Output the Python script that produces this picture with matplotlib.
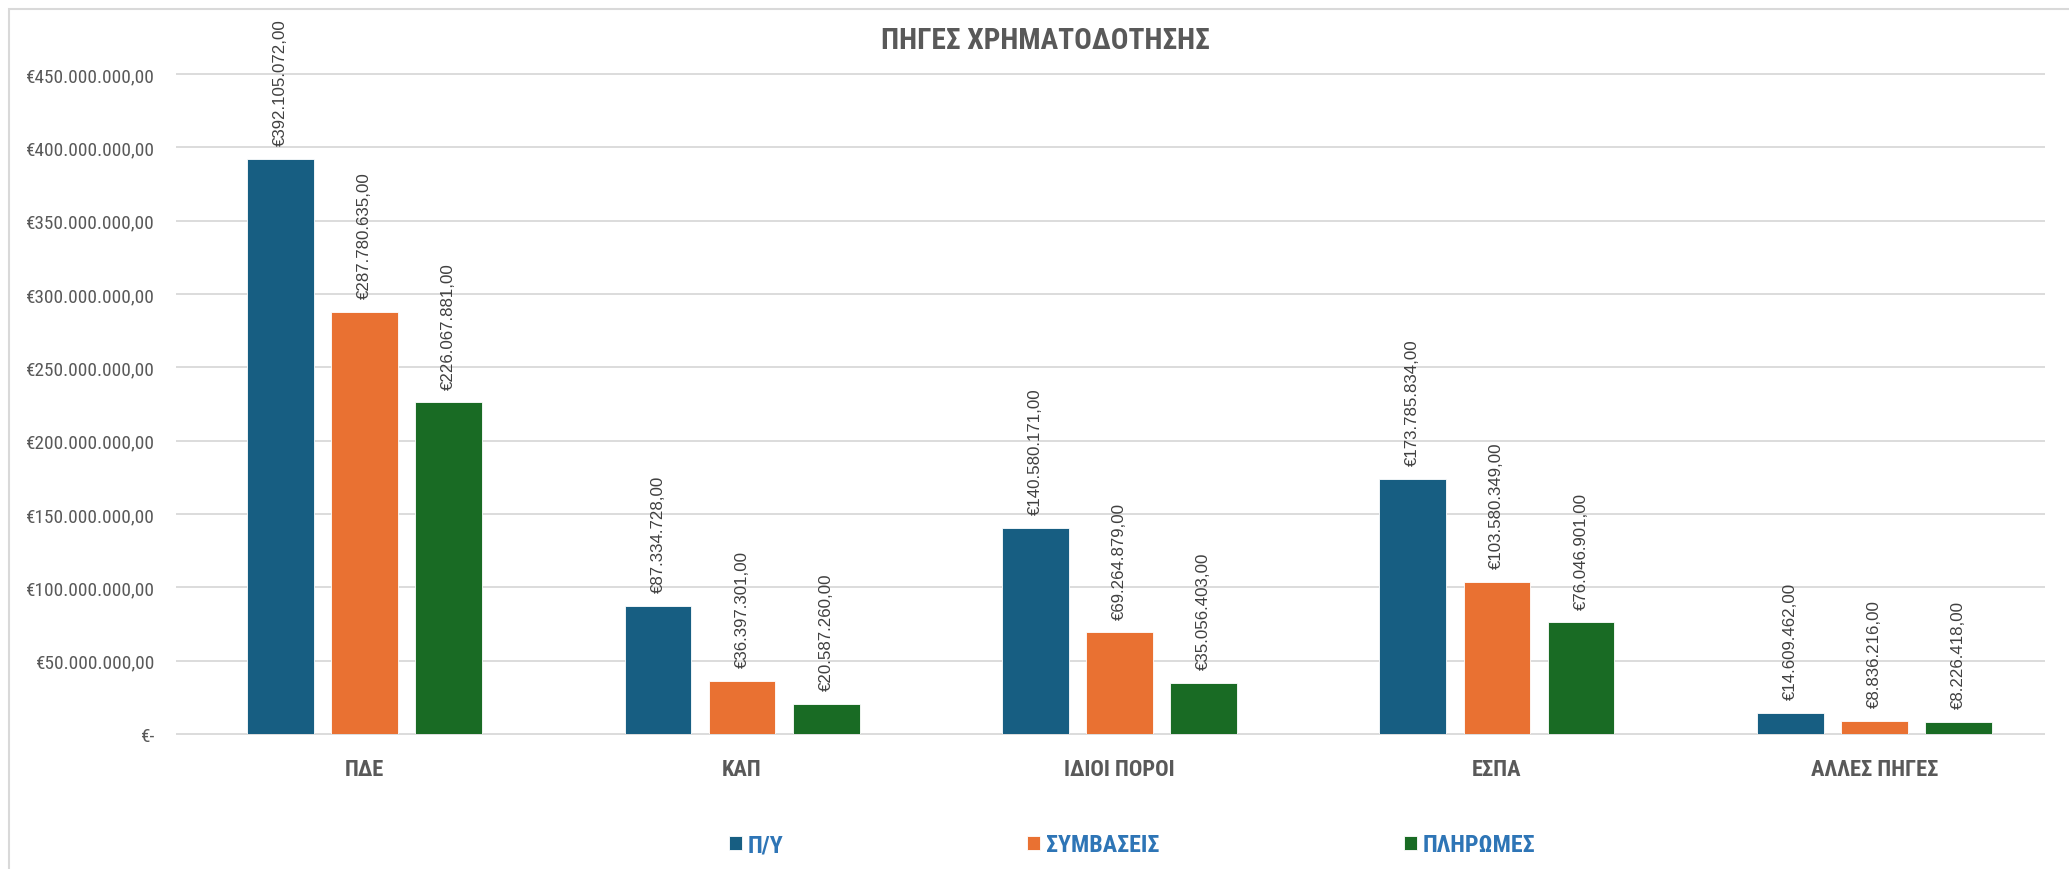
import matplotlib
matplotlib.use("Agg")
import matplotlib.pyplot as plt
import matplotlib.font_manager as fm
from matplotlib.patches import Rectangle
import numpy as np

categories = ["ΠΔΕ", "ΚΑΠ", "ΙΔΙΟΙ ΠΟΡΟΙ", "ΕΣΠΑ", "ΑΛΛΕΣ ΠΗΓΕΣ"]
series_names = ["Π/Υ", "ΣΥΜΒΑΣΕΙΣ", "ΠΛΗΡΩΜΕΣ"]
py_values = [392105072.00, 87334728.00, 140580171.00, 173785834.00, 14609462.00]
symvaseis_values = [287780635.00, 36397301.00, 69264879.00, 103580349.00, 8836216.00]
pliromes_values = [226067881.00, 20587260.00, 35056403.00, 76046901.00, 8226418.00]
title = "ΠΗΓΕΣ ΧΡΗΜΑΤΟΔΟΤΗΣΗΣ"
yticks = [0, 50e6, 100e6, 150e6, 200e6, 250e6, 300e6, 350e6, 400e6, 450e6]

colors = ["#175E82", "#E97132", "#196B24"]

# ---- pick a narrow font if one is installed ----
names = {f.name for f in fm.fontManager.ttflist}
narrow = None
stretch = "normal"
for n in ["Liberation Sans Narrow", "Arial Narrow", "Roboto Condensed",
          "Noto Sans Condensed", "Open Sans Condensed", "DejaVu Sans Condensed"]:
    if n in names:
        narrow = n
        break
if narrow is None:
    cands = sorted(n for n in names if ("Narrow" in n or "Condensed" in n)
                   and "Mono" not in n and "CJK" not in n)
    if cands:
        narrow = cands[0]
if narrow is None:
    for f in fm.fontManager.ttflist:
        if str(f.stretch) in ("condensed", "semi-condensed", "extra-condensed") \
                and "Mono" not in f.name and "Serif" not in f.name:
            narrow = f.name
            stretch = "condensed"
            break
if narrow is None:
    narrow = "Liberation Sans" if "Liberation Sans" in names else "DejaVu Sans"
NARROW = [narrow, "DejaVu Sans"]
REG = ["Liberation Sans", "DejaVu Sans"]


def euro(v):
    if v == 0:
        return "€-"
    s = f"{v:,.2f}"
    s = s.replace(",", "X").replace(".", ",").replace("X", ".")
    return "€" + s


fig = plt.figure(figsize=(20.69, 8.70), dpi=100)
fig.patch.set_facecolor("white")
renderer = fig.canvas.get_renderer()


def fit(text, target_px, **kw):
    t = fig.text(0, 0, text, fontsize=20, **kw)
    w = t.get_window_extent(renderer).width
    t.remove()
    return 20 * target_px / w


tick_fs = fit("€450.000.000,00", 128, family=NARROW, fontstretch=stretch)
cat_fs = fit("ΙΔΙΟΙ ΠΟΡΟΙ", 111, family=NARROW, fontweight="bold", fontstretch=stretch)
title_fs = fit(title, 329, family=NARROW, fontweight="bold", fontstretch=stretch)
leg_fs = fit("ΣΥΜΒΑΣΕΙΣ", 113, family=NARROW, fontweight="bold", fontstretch=stretch)
lab_fs = fit("€392.105.072,00", 127, family=REG)

# chart border
fig.add_artist(Rectangle((9 / 2069, -0.01), 1.2, 1 - 10 / 870 + 0.01,
                         transform=fig.transFigure, fill=False,
                         edgecolor="#D9D9D9", linewidth=1.5))

left_px, right_px, grid_end_px = 176, 2063, 2045
ax = fig.add_axes([left_px / 2069, 1 - 735 / 870, (right_px - left_px) / 2069,
                   (735 - 75) / 870])
x = np.arange(len(categories))
bw = 0.177
step = 0.223
all_series = [py_values, symvaseis_values, pliromes_values]
handles = []
for i, (vals, name, c) in enumerate(zip(all_series, series_names, colors)):
    pos = x + (i - 1) * step
    bars = ax.bar(pos, vals, width=bw, color=c, label=name, zorder=3,
                  edgecolor="white", linewidth=0.6)
    handles.append(bars)
    for p, v in zip(pos, vals):
        ax.annotate(euro(v), (p, v), xytext=(0, 10), textcoords="offset points",
                    rotation=90, ha="center", va="bottom", fontsize=lab_fs,
                    color="#404040", family=REG, annotation_clip=False)

ax.set_xlim(-0.5, len(categories) - 0.5)
ax.set_ylim(0, 450e6)
ax.set_yticks(yticks)
ax.set_yticklabels([euro(v) for v in yticks], fontsize=tick_fs, color="#595959",
                   family=NARROW, fontstretch=stretch)
ax.set_xticks(x)
ax.set_xticklabels(categories, fontsize=cat_fs, color="#595959", fontweight="bold",
                   family=NARROW, fontstretch=stretch)
ax.tick_params(axis="both", length=0)
ax.tick_params(axis="x", pad=17)
ax.tick_params(axis="y", pad=15)
gx = (grid_end_px - left_px) / (right_px - left_px)
ax.hlines(yticks, 0, gx, transform=ax.get_yaxis_transform(), colors="#D9D9D9",
          linewidth=1.3, zorder=0, clip_on=False)
for s in ["top", "right", "left", "bottom"]:
    ax.spines[s].set_visible(False)

fig.text(1045 / 2069, 1 - 41 / 870, title, ha="center", va="center",
         fontsize=title_fs, fontweight="bold", color="#595959", family=NARROW,
         fontstretch=stretch)

fs_px = leg_fs * 100 / 72
leg = fig.legend(handles=handles, labels=series_names, loc="center",
                 bbox_to_anchor=(1132 / 2069, 1 - 846 / 870), ncol=3,
                 frameon=False, handlelength=13 / fs_px, handleheight=13 / fs_px,
                 handletextpad=6 / fs_px, columnspacing=244 / fs_px,
                 prop={"family": NARROW, "weight": "bold", "size": leg_fs,
                       "stretch": stretch})
for t in leg.get_texts():
    t.set_color("#2E75B6")

fig.savefig("out.png", dpi=100, facecolor="white")
